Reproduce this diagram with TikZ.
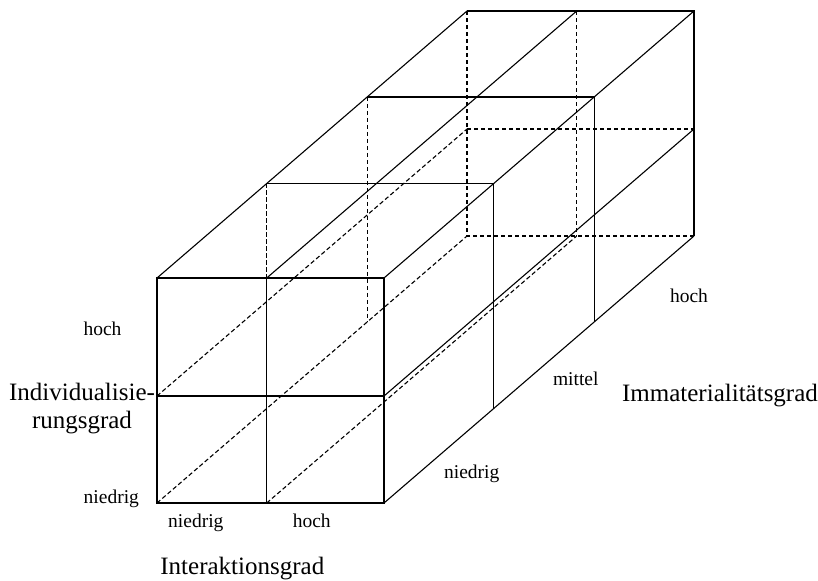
\documentclass[tikz,border=0pt]{standalone}
\usepackage{fontspec}
\setmainfont{Liberation Serif}
\usetikzlibrary{calc}
\tikzset{
  solidline/.style={line width=0.55pt},
  hiddenline/.style={line width=0.55pt,dash pattern=on 2.2pt off 1.3pt},
  grade/.style={inner sep=0pt,anchor=base,font=\fontsize{9.75}{11}\selectfont},
  axistitle/.style={inner sep=0pt,font=\fontsize{12.5}{14.2}\selectfont}
}

\begin{document}
\begin{tikzpicture}[x=0.5pt,y=-0.5pt]
  \useasboundingbox (0,0) rectangle (818,580);
  % front face
  \coordinate (f-tl) at (157,278);
  \coordinate (f-tm) at (266.7,278);
  \coordinate (f-tr) at (384,278);
  \coordinate (f-ml) at (157,396);
  \coordinate (f-mr) at (384,396);
  \coordinate (f-bl) at (157,503);
  \coordinate (f-bm) at (266.7,503);
  \coordinate (f-br) at (384,503);
  % back face
  \foreach \c in {tl,tm,tr,ml,mr,bl,bm,br}
    \coordinate (b-\c) at ($(f-\c)+(310,-267)$);

  % hidden edges
  \foreach \c in {ml,bl,bm}
    \draw[hiddenline] (f-\c) -- (b-\c);
  \draw[hiddenline] (b-tl) -- (b-bl) -- (b-br);
  \draw[hiddenline] (b-tm) -- (b-bm);
  \draw[hiddenline] (b-ml) -- (b-mr);
  \foreach \t in {0.354,0.678}
    \draw[hiddenline] ($(f-tl)!\t!(b-tl)$) -- ($(f-bl)!\t!(b-bl)$);

  % visible edges
  \draw[solidline] (f-tl) rectangle (f-br);
  \draw[solidline] (f-tm) -- (f-bm);
  \draw[solidline] (f-ml) -- (f-mr);
  \foreach \c in {tl,tm,tr,mr,br}
    \draw[solidline] (f-\c) -- (b-\c);
  \draw[solidline] (b-tl) -- (b-tr) -- (b-br);
  \foreach \t in {0.354,0.678}
    \draw[solidline] ($(f-tl)!\t!(b-tl)$) -- ($(f-tr)!\t!(b-tr)$) -- ($(f-br)!\t!(b-br)$);

  % labels
  \node[grade] (indHigh) at (102.5,335.7) {hoch};
  \node[grade] (indLow) at (111.3,503) {niedrig};
  \node[grade] (intLow) at (195.8,527.5) {niedrig};
  \node[grade] (intHigh) at (311.7,527.5) {hoch};
  \node[grade] (immLow) at (471.7,478.3) {niedrig};
  \node[grade] (immMid) at (575.8,385.7) {mittel};
  \node[grade] (immHigh) at (689,302.3) {hoch};
  \node[axistitle,align=center] (ind) at (82,408.5) {Individualisie-\\rungsgrad};
  \node[axistitle,anchor=base west] (int) at (160,574.3) {Interaktionsgrad};
  \node[axistitle,anchor=base west] (imm) at (621.7,401.7) {Immaterialitätsgrad};
\end{tikzpicture}
\end{document}
